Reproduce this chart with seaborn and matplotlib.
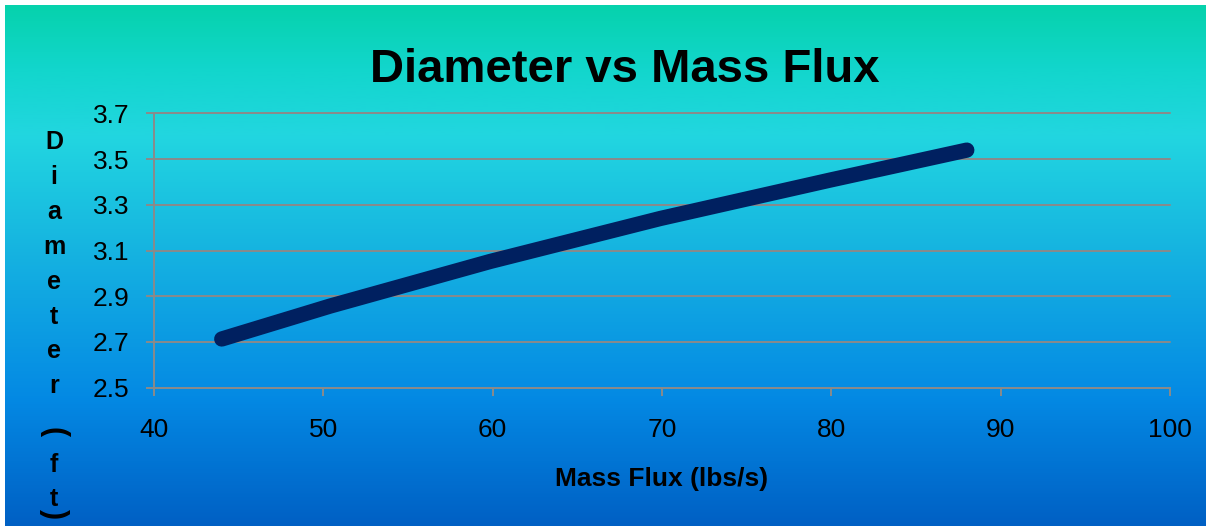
import numpy as np
import pandas as pd
import matplotlib
matplotlib.use("Agg")
import matplotlib.pyplot as plt
import seaborn as sns
from matplotlib.colors import LinearSegmentedColormap

# ---- data ----
mass_flux = [44, 50.4, 59.85, 69.9, 79.93, 88]
diameter = [2.713, 2.857, 3.052, 3.240, 3.408, 3.539]
x_ticks = [40, 50, 60, 70, 80, 90, 100]
y_ticks = [2.5, 2.7, 2.9, 3.1, 3.3, 3.5, 3.7]
title = "Diameter vs Mass Flux"
x_label = "Mass Flux (lbs/s)"
y_label = "Diameter (ft)"

sns.set_theme(style="white")
plt.rcParams['font.family'] = ['Liberation Sans', 'DejaVu Sans']

W, H = 1206, 526
fig = plt.figure(figsize=(W / 100, H / 100), dpi=100)
fig.patch.set_facecolor("white")

# background gradient
bg = fig.add_axes([5 / W, 0, 1 - 5 / W, 1 - 5 / H], zorder=0)
stops = [(0.0, (6/255, 210/255, 172/255)),
         (0.12, (18/255, 214/255, 204/255)),
         (0.25, (34/255, 214/255, 224/255)),
         (0.50, (20/255, 175/255, 225/255)),
         (0.75, (4/255, 138/255, 228/255)),
         (1.0, (0/255, 96/255, 196/255))]
cmap = LinearSegmentedColormap.from_list("bg", stops)
grad = np.linspace(0, 1, 512).reshape(-1, 1)
bg.imshow(grad, aspect="auto", cmap=cmap, extent=[0, 1, 1, 0])
bg.set_axis_off()

ax = fig.add_axes([154 / W, 1 - 387.7 / H, (1170 - 154) / W, (387.7 - 113.3) / H], zorder=1)
ax.patch.set_alpha(0)

df = pd.DataFrame({"Mass Flux": mass_flux, "Diameter": diameter})
sns.lineplot(data=df, x="Mass Flux", y="Diameter", ax=ax, color="#002060",
             linewidth=11, solid_capstyle="round", zorder=3)

ax.set_xlim(x_ticks[0], x_ticks[-1])
ax.set_ylim(y_ticks[0], y_ticks[-1])
ax.set_xticks(x_ticks)
ax.set_yticks(y_ticks)
ax.set_xticklabels([str(v) for v in x_ticks])
ax.set_yticklabels([f"{v:.1f}" for v in y_ticks])
ax.grid(axis="y", color="#8a8a8a", linewidth=1.4)
ax.grid(axis="x", visible=False)
ax.set_axisbelow(True)
for gl in ax.get_ygridlines():
    gl.set_clip_on(False)
for s in ["top", "right"]:
    ax.spines[s].set_visible(False)
for s in ["left", "bottom"]:
    ax.spines[s].set_visible(True)
    ax.spines[s].set_color("#8a8a8a")
    ax.spines[s].set_linewidth(1.4)
ax.tick_params(axis="both", which="major", direction="out", length=5.5, width=1.4,
               color="#8a8a8a", labelsize=19, labelcolor="black",
               bottom=True, left=True)
ax.tick_params(axis="x", pad=16)
ax.tick_params(axis="y", pad=12)
ax.set_xlabel("")
ax.set_ylabel("")

fig.text(624.5 / W, 1 - 70 / H, title, ha="center", va="center",
         fontsize=34, fontweight="bold", color="black")
fig.text(662 / W, 1 - 479 / H, x_label, ha="center", va="center",
         fontsize=19, fontweight="bold", color="black")

# stacked vertical y label
ys = [142, 177, 212, 247, 282, 317, 351, 386, None, 432, 465, 499, 514]
chars = [c if c != " " else None for c in y_label]
for c, yy in zip(chars, ys):
    if c is None or yy is None:
        continue
    paren = c in "()"
    fig.text(54 / W, 1 - yy / H, c, ha="center", va="center",
             rotation=-90 if paren else 0,
             fontsize=22 if paren else 18, fontweight="bold", color="black")

fig.savefig("out.png", dpi=100)
